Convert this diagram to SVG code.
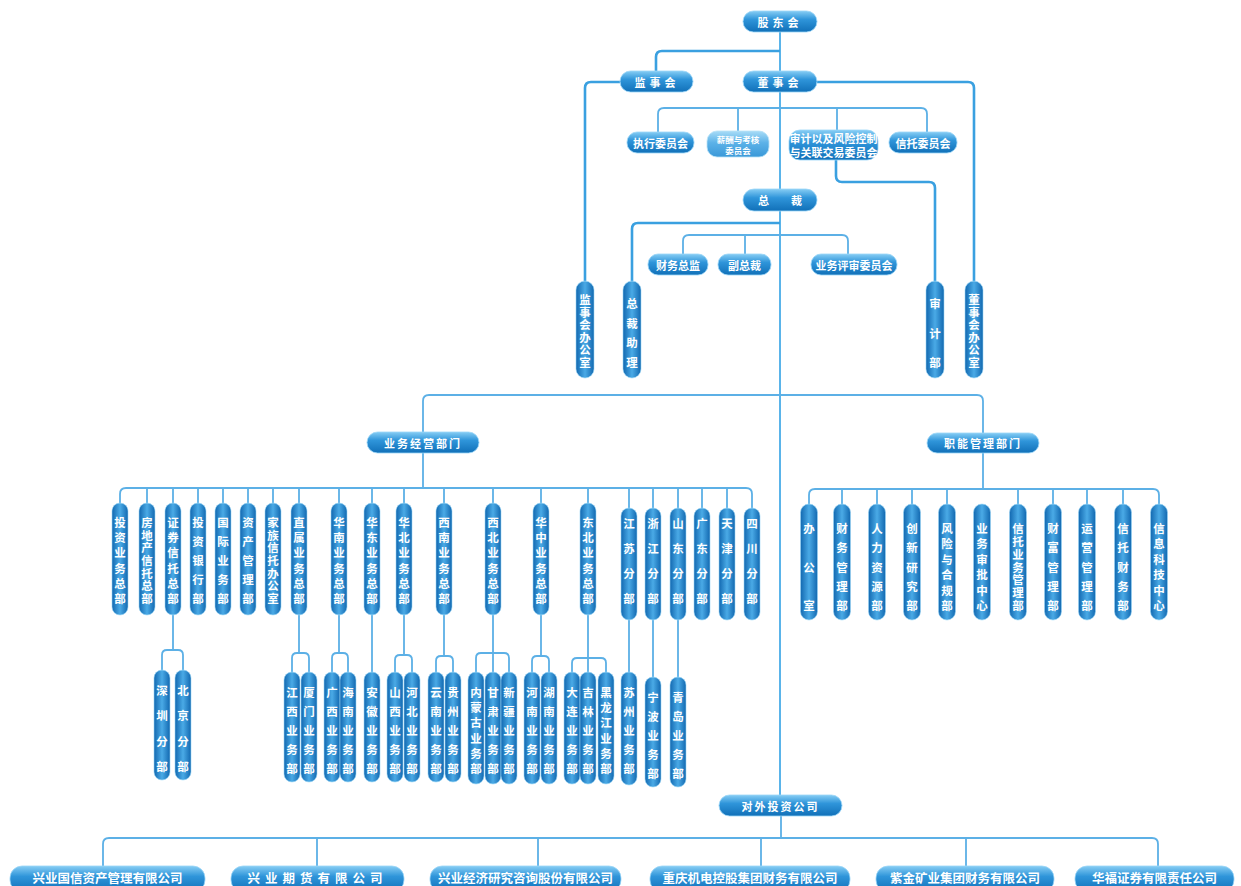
<svg xmlns="http://www.w3.org/2000/svg" width="1241" height="886" viewBox="0 0 1241 886">
<defs>
<linearGradient id="gh" x1="0" y1="0" x2="0" y2="1">
<stop offset="0" stop-color="#86cdf4"/><stop offset="0.4" stop-color="#2f95da"/><stop offset="1" stop-color="#1170b8"/>
</linearGradient>
<linearGradient id="ghl" x1="0" y1="0" x2="0" y2="1">
<stop offset="0" stop-color="#a8dcf7"/><stop offset="0.45" stop-color="#5cb2e8"/><stop offset="1" stop-color="#3a98d8"/>
</linearGradient>
<linearGradient id="gv" x1="0" y1="0" x2="1" y2="0">
<stop offset="0" stop-color="#1268b0"/><stop offset="0.5" stop-color="#4aaae6"/><stop offset="1" stop-color="#1268b0"/>
</linearGradient>
<style>
.ln{fill:none;stroke:#3aa0e0;stroke-width:2.6}
.ln2{fill:none;stroke:#5cb0e6;stroke-width:1.8}
.tr{fill:none;stroke:#5ab4ea;stroke-width:2}
.hp{fill:url(#gh);stroke:#9ad6f7;stroke-width:0.8}
.hpl{fill:url(#ghl);stroke:#b8e2f8;stroke-width:0.8}
.vp{fill:url(#gv);stroke:#9ad6f7;stroke-width:0.6}
.t{fill:#fff;font-family:"Noto Sans CJK SC","Noto Sans",sans-serif;font-weight:700;font-size:11px;text-anchor:middle;dominant-baseline:central}
.tv{font-size:11.5px}
.ts{font-size:8.5px}
.tb{font-size:12.5px}
</style>
</defs>
<rect width="1241" height="886" fill="#ffffff"/>
<g id="connectors">
<path class="tr" d="M780,32 V795"/>
<path class="ln" d="M780,51 H662 Q656,51 656,57 V71"/>
<path class="ln" d="M620,82 H591 Q585,82 585,88 V281"/>
<path class="ln" d="M817,82 H968 Q974,82 974,88 V281"/>
<path class="ln2" d="M658,132 V114 Q658,108 664,108 H921 Q927,108 927,114 V132 M738,108 V131 M837,108 V131"/>
<path class="ln" d="M836,160 V176 Q836,182 842,182 H929 Q935,182 935,188 V281"/>
<path class="ln" d="M780,223 H638 Q632,223 632,229 V281"/>
<path class="ln2" d="M683,254 V241 Q683,235 689,235 H842 Q848,235 848,241 V254 M745,235 V254"/>
<path class="ln2" d="M423,432 V401 Q423,395 429,395 H977 Q983,395 983,401 V433"/>
<path class="ln2" d="M423,453 V488 M120,503 V494 Q120,488 126,488 H746 Q752,488 752,494 V508 M147,488 V503 M173,488 V503 M198,488 V503 M223,488 V503 M248,488 V503 M273,488 V503 M299,488 V503 M339,488 V503 M372,488 V503 M404,488 V503 M444,488 V503 M493,488 V503 M541,488 V503 M588,488 V503 M629,488 V508 M653,488 V508 M678,488 V508 M702,488 V508 M727,488 V508"/>
<path class="ln2" d="M983,453 V489 M809,504 V495 Q809,489 815,489 H1153 Q1159,489 1159,495 V504 M842,489 V504 M877,489 V504 M912,489 V504 M947,489 V504 M1018,489 V504 M1053,489 V504 M1087,489 V504 M1123,489 V504"/>
<path class="ln2" d="M173,615 V650 M162,670 V655 Q162,650 167,650 H178 Q183,650 183,655 V670"/>
<path class="ln2" d="M299,615 V653 M292,672 V658 Q292,653 297,653 H304 Q309,653 309,658 V672"/>
<path class="ln2" d="M339,615 V653 M332,672 V658 Q332,653 337,653 H343 Q348,653 348,658 V672"/>
<path class="ln2" d="M372,615 V672"/>
<path class="ln2" d="M404,615 V655 M395,672 V660 Q395,655 400,655 H407 Q412,655 412,660 V672"/>
<path class="ln2" d="M444,615 V656 M436,672 V661 Q436,656 441,656 H448 Q453,656 453,661 V672"/>
<path class="ln2" d="M493,615 V672 M476,672 V658 Q476,653 481,653 H504 Q509,653 509,658 V672"/>
<path class="ln2" d="M541,615 V656 M532,672 V661 Q532,656 537,656 H544 Q549,656 549,661 V672"/>
<path class="ln2" d="M588,615 V672 M572,672 V663 Q572,658 577,658 H601 Q606,658 606,663 V672"/>
<path class="ln2" d="M629,620 V672 M653,620 V677 M678,620 V677"/>
<path class="ln2" d="M781,816 V838 M103,866 V844 Q103,838 109,838 H1152 Q1158,838 1158,844 V866 M317,838 V866 M538,838 V866 M761,838 V866 M966,838 V866"/>
</g>
<g id="n-gudonghui"><rect class="hp" x="743" y="11" width="74" height="21" rx="10.5"/><text class="t" x="780" y="21.5" letter-spacing="4">股东会</text></g>
<g id="n-jianshihui"><rect class="hp" x="620" y="71" width="73" height="21" rx="10.5"/><text class="t" x="657" y="81.5" letter-spacing="4">监事会</text></g>
<g id="n-dongshihui"><rect class="hp" x="743" y="71" width="74" height="21" rx="10.5"/><text class="t" x="780" y="81.5" letter-spacing="4">董事会</text></g>
<g id="n-zhixing"><rect class="hp" x="627" y="132" width="67" height="21" rx="10"/><text class="t" x="660.5" y="142.5">执行委员会</text></g>
<g id="n-xinchou"><rect class="hpl" x="707" y="131" width="62" height="26" rx="10"/><text class="t ts"><tspan x="738" y="138.5">薪酬与考核</tspan><tspan x="738" y="150">委员会</tspan></text></g>
<g id="n-shenjiwyh"><rect class="hp" x="789" y="130" width="89" height="30" rx="11"/><text class="t" font-size="9.5"><tspan x="833.5" y="138">审计以及风险控制</tspan><tspan x="833.5" y="152">与关联交易委员会</tspan></text></g>
<g id="n-xintuowyh"><rect class="hp" x="889" y="132" width="68" height="21" rx="10"/><text class="t" x="923" y="142.5">信托委员会</text></g>
<g id="n-zongcai"><rect class="hp" x="743" y="189" width="74" height="22" rx="11"/><text class="t" x="780" y="200">总　　裁</text></g>
<g id="n-caiwuzongjian"><rect class="hp" x="648" y="254" width="60" height="21" rx="10"/><text class="t" x="678" y="264.5">财务总监</text></g>
<g id="n-fuzongcai"><rect class="hp" x="718" y="254" width="53" height="21" rx="10"/><text class="t" x="744.5" y="264.5">副总裁</text></g>
<g id="n-yewupingshen"><rect class="hp" x="811" y="254" width="86" height="21" rx="10"/><text class="t" x="854" y="264.5">业务评审委员会</text></g>
<g id="n-jsh-office"><rect class="vp" x="576" y="281" width="18" height="97" rx="9"/><text class="t tv" x="585 585 585 585 585 585" y="299 311.6 324.2 336.8 349.4 362">监事会办公室</text></g>
<g id="n-zczl"><rect class="vp" x="623" y="281" width="18" height="97" rx="9"/><text class="t tv" x="632 632 632 632" y="303 322.7 342.3 362">总裁助理</text></g>
<g id="n-shenjibu"><rect class="vp" x="926" y="281" width="18" height="97" rx="9"/><text class="t tv" x="935 935 935" y="303 332.5 362">审计部</text></g>
<g id="n-dsh-office"><rect class="vp" x="965" y="281" width="18" height="97" rx="9"/><text class="t tv" x="974 974 974 974 974 974" y="299 311.6 324.2 336.8 349.4 362">董事会办公室</text></g>
<g id="n-yewujingying"><rect class="hp" x="367" y="432" width="112" height="21" rx="10.5"/><text class="t" x="423" y="442.5" letter-spacing="2">业务经营部门</text></g>
<g id="n-zhineng"><rect class="hp" x="927" y="433" width="112" height="20" rx="10"/><text class="t" x="983" y="443" letter-spacing="2">职能管理部门</text></g>
<g id="b1"><rect class="vp" x="112" y="503" width="16" height="112" rx="8"/><text class="t tv" x="120 120 120 120 120 120" y="522 537.2 552.4 567.6 582.8 598">投资业务总部</text></g>
<g id="b2"><rect class="vp" x="139" y="503" width="16" height="112" rx="8"/><text class="t tv" x="147 147 147 147 147 147 147" y="522 534.7 547.3 560 572.7 585.3 598">房地产信托总部</text></g>
<g id="b3"><rect class="vp" x="165" y="503" width="16" height="112" rx="8"/><text class="t tv" x="173 173 173 173 173 173" y="522 537.2 552.4 567.6 582.8 598">证券信托总部</text></g>
<g id="b4"><rect class="vp" x="190" y="503" width="16" height="112" rx="8"/><text class="t tv" x="198 198 198 198 198" y="522 541 560 579 598">投资银行部</text></g>
<g id="b5"><rect class="vp" x="215" y="503" width="16" height="112" rx="8"/><text class="t tv" x="223 223 223 223 223" y="522 541 560 579 598">国际业务部</text></g>
<g id="b6"><rect class="vp" x="240" y="503" width="16" height="112" rx="8"/><text class="t tv" x="248 248 248 248 248" y="522 541 560 579 598">资产管理部</text></g>
<g id="b7"><rect class="vp" x="265" y="503" width="16" height="112" rx="8"/><text class="t tv" x="273 273 273 273 273 273 273" y="522 534.7 547.3 560 572.7 585.3 598">家族信托办公室</text></g>
<g id="b8"><rect class="vp" x="291" y="503" width="16" height="112" rx="8"/><text class="t tv" x="299 299 299 299 299 299" y="522 537.2 552.4 567.6 582.8 598">直属业务总部</text></g>
<g id="b9"><rect class="vp" x="331" y="503" width="16" height="112" rx="8"/><text class="t tv" x="339 339 339 339 339 339" y="522 537.2 552.4 567.6 582.8 598">华南业务总部</text></g>
<g id="b10"><rect class="vp" x="364" y="503" width="16" height="112" rx="8"/><text class="t tv" x="372 372 372 372 372 372" y="522 537.2 552.4 567.6 582.8 598">华东业务总部</text></g>
<g id="b11"><rect class="vp" x="396" y="503" width="16" height="112" rx="8"/><text class="t tv" x="404 404 404 404 404 404" y="522 537.2 552.4 567.6 582.8 598">华北业务总部</text></g>
<g id="b12"><rect class="vp" x="436" y="503" width="16" height="112" rx="8"/><text class="t tv" x="444 444 444 444 444 444" y="522 537.2 552.4 567.6 582.8 598">西南业务总部</text></g>
<g id="b13"><rect class="vp" x="485" y="503" width="16" height="112" rx="8"/><text class="t tv" x="493 493 493 493 493 493" y="522 537.2 552.4 567.6 582.8 598">西北业务总部</text></g>
<g id="b14"><rect class="vp" x="533" y="503" width="16" height="112" rx="8"/><text class="t tv" x="541 541 541 541 541 541" y="522 537.2 552.4 567.6 582.8 598">华中业务总部</text></g>
<g id="b15"><rect class="vp" x="580" y="503" width="16" height="112" rx="8"/><text class="t tv" x="588 588 588 588 588 588" y="522 537.2 552.4 567.6 582.8 598">东北业务总部</text></g>
<g id="b16"><rect class="vp" x="621" y="508" width="16" height="112" rx="8"/><text class="t tv" x="629 629 629 629" y="523 548 573 598">江苏分部</text></g>
<g id="b17"><rect class="vp" x="645" y="508" width="16" height="112" rx="8"/><text class="t tv" x="653 653 653 653" y="523 548 573 598">浙江分部</text></g>
<g id="b18"><rect class="vp" x="670" y="508" width="16" height="112" rx="8"/><text class="t tv" x="678 678 678 678" y="523 548 573 598">山东分部</text></g>
<g id="b19"><rect class="vp" x="694" y="508" width="16" height="112" rx="8"/><text class="t tv" x="702 702 702 702" y="523 548 573 598">广东分部</text></g>
<g id="b20"><rect class="vp" x="719" y="508" width="16" height="112" rx="8"/><text class="t tv" x="727 727 727 727" y="523 548 573 598">天津分部</text></g>
<g id="b21"><rect class="vp" x="744" y="508" width="16" height="112" rx="8"/><text class="t tv" x="752 752 752 752" y="523 548 573 598">四川分部</text></g>
<g id="s1"><rect class="vp" x="154" y="670" width="16" height="110" rx="8"/><text class="t tv" x="162 162 162 162" y="690 715.3 740.7 766">深圳分部</text></g>
<g id="s2"><rect class="vp" x="175" y="670" width="16" height="110" rx="8"/><text class="t tv" x="183 183 183 183" y="690 715.3 740.7 766">北京分部</text></g>
<g id="s3"><rect class="vp" x="284" y="672" width="16" height="110" rx="8"/><text class="t tv" x="292 292 292 292 292" y="692 711 730 749 768">江西业务部</text></g>
<g id="s4"><rect class="vp" x="301" y="672" width="16" height="110" rx="8"/><text class="t tv" x="309 309 309 309 309" y="692 711 730 749 768">厦门业务部</text></g>
<g id="s5"><rect class="vp" x="324" y="672" width="16" height="110" rx="8"/><text class="t tv" x="332 332 332 332 332" y="692 711 730 749 768">广西业务部</text></g>
<g id="s6"><rect class="vp" x="340" y="672" width="16" height="110" rx="8"/><text class="t tv" x="348 348 348 348 348" y="692 711 730 749 768">海南业务部</text></g>
<g id="s7"><rect class="vp" x="364" y="672" width="16" height="110" rx="8"/><text class="t tv" x="372 372 372 372 372" y="692 711 730 749 768">安徽业务部</text></g>
<g id="s8"><rect class="vp" x="387" y="672" width="16" height="110" rx="8"/><text class="t tv" x="395 395 395 395 395" y="692 711 730 749 768">山西业务部</text></g>
<g id="s9"><rect class="vp" x="404" y="672" width="16" height="110" rx="8"/><text class="t tv" x="412 412 412 412 412" y="692 711 730 749 768">河北业务部</text></g>
<g id="s10"><rect class="vp" x="428" y="672" width="16" height="110" rx="8"/><text class="t tv" x="436 436 436 436 436" y="692 711 730 749 768">云南业务部</text></g>
<g id="s11"><rect class="vp" x="445" y="672" width="16" height="110" rx="8"/><text class="t tv" x="453 453 453 453 453" y="692 711 730 749 768">贵州业务部</text></g>
<g id="s12"><rect class="vp" x="468" y="672" width="16" height="112" rx="8"/><text class="t tv" x="476 476 476 476 476 476" y="692 707.2 722.4 737.6 752.8 768">内蒙古业务部</text></g>
<g id="s13"><rect class="vp" x="485" y="672" width="16" height="112" rx="8"/><text class="t tv" x="493 493 493 493 493" y="692 711 730 749 768">甘肃业务部</text></g>
<g id="s14"><rect class="vp" x="501" y="672" width="16" height="112" rx="8"/><text class="t tv" x="509 509 509 509 509" y="692 711 730 749 768">新疆业务部</text></g>
<g id="s15"><rect class="vp" x="524" y="672" width="16" height="112" rx="8"/><text class="t tv" x="532 532 532 532 532" y="692 711 730 749 768">河南业务部</text></g>
<g id="s16"><rect class="vp" x="541" y="672" width="16" height="112" rx="8"/><text class="t tv" x="549 549 549 549 549" y="692 711 730 749 768">湖南业务部</text></g>
<g id="s17"><rect class="vp" x="564" y="672" width="16" height="112" rx="8"/><text class="t tv" x="572 572 572 572 572" y="692 711 730 749 768">大连业务部</text></g>
<g id="s18"><rect class="vp" x="580" y="672" width="16" height="112" rx="8"/><text class="t tv" x="588 588 588 588 588" y="692 711 730 749 768">吉林业务部</text></g>
<g id="s19"><rect class="vp" x="598" y="672" width="16" height="112" rx="8"/><text class="t tv" x="606 606 606 606 606 606" y="692 707.2 722.4 737.6 752.8 768">黑龙江业务部</text></g>
<g id="s20"><rect class="vp" x="621" y="672" width="16" height="113" rx="8"/><text class="t tv" x="629 629 629 629 629" y="692 711 730 749 768">苏州业务部</text></g>
<g id="s21"><rect class="vp" x="645" y="677" width="16" height="110" rx="8"/><text class="t tv" x="653 653 653 653 653" y="697 716 735 754 773">宁波业务部</text></g>
<g id="s22"><rect class="vp" x="670" y="677" width="16" height="110" rx="8"/><text class="t tv" x="678 678 678 678 678" y="697 716 735 754 773">青岛业务部</text></g>
<g id="f1"><rect class="vp" x="800.5" y="504" width="17" height="116" rx="8.5"/><text class="t tv" x="809 809 809" y="528 566.5 605">办公室</text></g>
<g id="f2"><rect class="vp" x="833.5" y="504" width="17" height="116" rx="8.5"/><text class="t tv" x="842 842 842 842 842" y="528 547.3 566.5 585.8 605">财务管理部</text></g>
<g id="f3"><rect class="vp" x="868.5" y="504" width="17" height="116" rx="8.5"/><text class="t tv" x="877 877 877 877 877" y="528 547.3 566.5 585.8 605">人力资源部</text></g>
<g id="f4"><rect class="vp" x="903.5" y="504" width="17" height="116" rx="8.5"/><text class="t tv" x="912 912 912 912 912" y="528 547.3 566.5 585.8 605">创新研究部</text></g>
<g id="f5"><rect class="vp" x="938.5" y="504" width="17" height="116" rx="8.5"/><text class="t tv" x="947 947 947 947 947 947" y="528 543.4 558.8 574.2 589.6 605">风险与合规部</text></g>
<g id="f6"><rect class="vp" x="973.5" y="504" width="17" height="116" rx="8.5"/><text class="t tv" x="982 982 982 982 982 982" y="528 543.4 558.8 574.2 589.6 605">业务审批中心</text></g>
<g id="f7"><rect class="vp" x="1009.5" y="504" width="17" height="116" rx="8.5"/><text class="t tv" x="1018 1018 1018 1018 1018 1018 1018" y="528 540.8 553.7 566.5 579.3 592.2 605">信托业务管理部</text></g>
<g id="f8"><rect class="vp" x="1044.5" y="504" width="17" height="116" rx="8.5"/><text class="t tv" x="1053 1053 1053 1053 1053" y="528 547.3 566.5 585.8 605">财富管理部</text></g>
<g id="f9"><rect class="vp" x="1078.5" y="504" width="17" height="116" rx="8.5"/><text class="t tv" x="1087 1087 1087 1087 1087" y="528 547.3 566.5 585.8 605">运营管理部</text></g>
<g id="f10"><rect class="vp" x="1114.5" y="504" width="17" height="116" rx="8.5"/><text class="t tv" x="1123 1123 1123 1123 1123" y="528 547.3 566.5 585.8 605">信托财务部</text></g>
<g id="f11"><rect class="vp" x="1150.5" y="504" width="17" height="116" rx="8.5"/><text class="t tv" x="1159 1159 1159 1159 1159 1159" y="528 543.4 558.8 574.2 589.6 605">信息科技中心</text></g>
<g id="n-duiwai"><rect class="hp" x="719" y="795" width="123" height="21" rx="10.5"/><text class="t" x="780.5" y="805.5" letter-spacing="2">对外投资公司</text></g>
<g id="c1"><rect class="hp" x="10" y="866" width="195" height="26" rx="12"/><text class="t tb" x="107.5" y="877.5">兴业国信资产管理有限公司</text></g>
<g id="c2"><rect class="hp" x="231" y="866" width="173" height="26" rx="12"/><text class="t tb" x="317.5" y="877.5" letter-spacing="5">兴业期货有限公司</text></g>
<g id="c3"><rect class="hp" x="430" y="866" width="191" height="26" rx="12"/><text class="t tb" x="525.5" y="877.5">兴业经济研究咨询股份有限公司</text></g>
<g id="c4"><rect class="hp" x="650" y="866" width="200" height="26" rx="12"/><text class="t tb" x="750" y="877.5">重庆机电控股集团财务有限公司</text></g>
<g id="c5"><rect class="hp" x="876" y="866" width="178" height="26" rx="12"/><text class="t tb" x="965" y="877.5">紫金矿业集团财务有限公司</text></g>
<g id="c6"><rect class="hp" x="1075" y="866" width="159" height="26" rx="12"/><text class="t tb" x="1154.5" y="877.5">华福证券有限责任公司</text></g>
</svg>
